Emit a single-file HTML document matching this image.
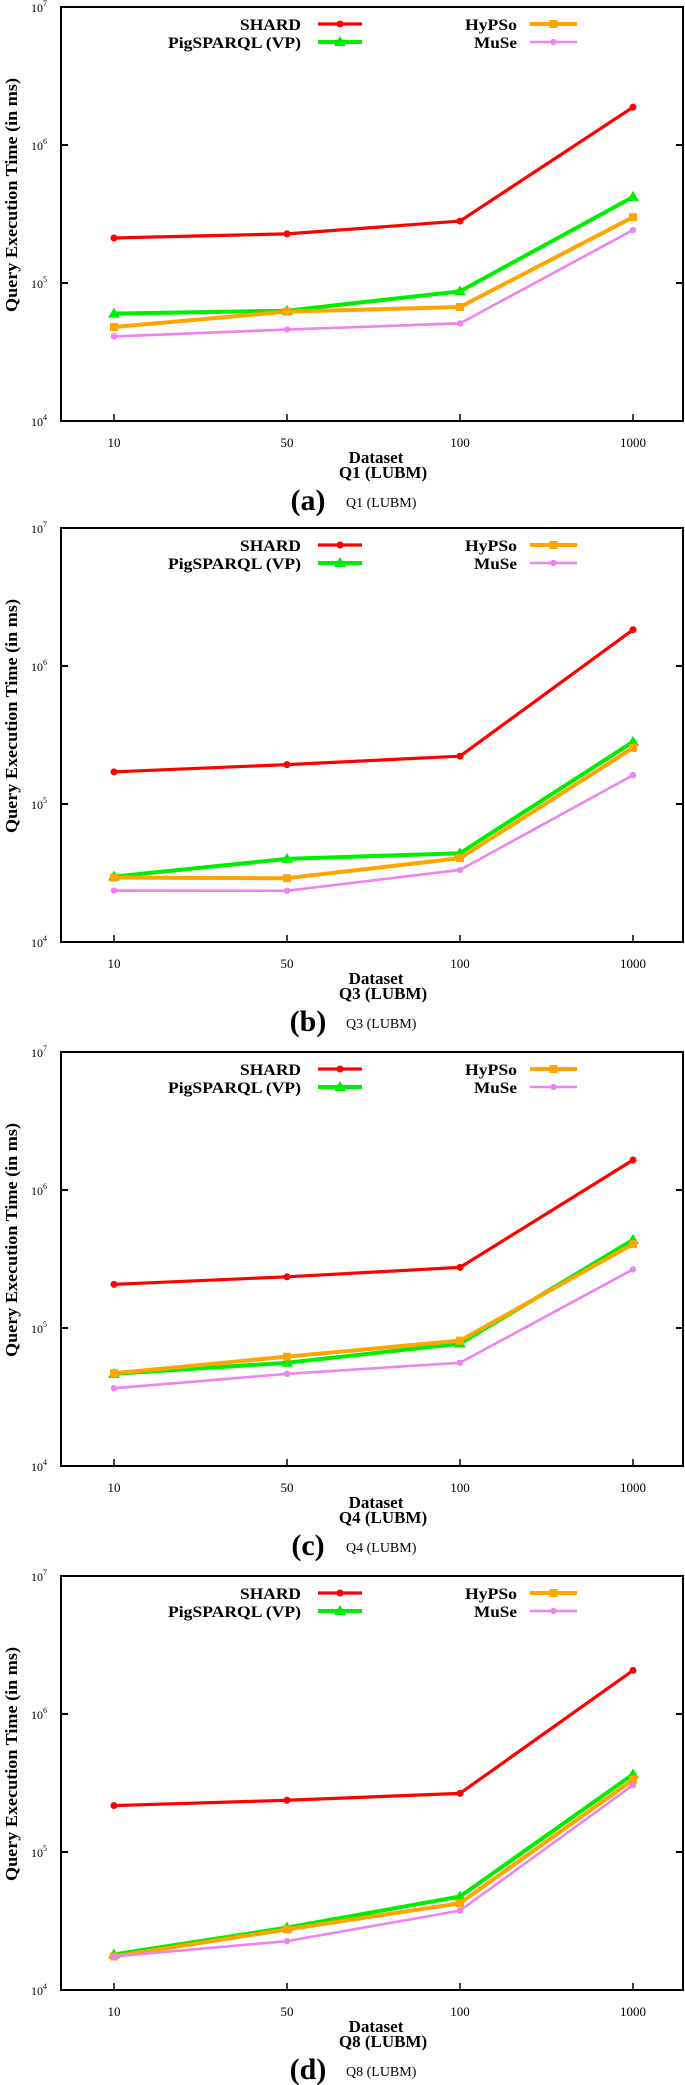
<!DOCTYPE html>
<html><head><meta charset="utf-8"><style>
html,body{margin:0;padding:0;background:#fff;}
svg{display:block;font-family:"Liberation Serif",serif;}
</style></head><body>
<svg id="fig" width="685" height="2085" viewBox="0 0 685 2085" xmlns="http://www.w3.org/2000/svg"></svg>
<script>
const categories = ["10","50","100","1000"];
const seriesNames = ["SHARD","PigSPARQL (VP)","HyPSo","MuSe"];
const yTickExps = [4,5,6,7];
const panelQueries = ["Q1","Q3","Q4","Q8"];
const panelLetters = ["(a)","(b)","(c)","(d)"];
// panel 1 (Q1)
const q1Shard = [212000,227000,281000,1880000];
const q1Pig = [60000,63000,87000,420000];
const q1Hypso = [48000,62000,67000,300000];
const q1Muse = [41000,46000,51000,242000];
// panel 2 (Q3)
const q3Shard = [171000,193000,222000,1830000];
const q3Pig = [29800,40000,44000,282000];
const q3Hypso = [29300,29000,40500,255000];
const q3Muse = [23600,23500,33300,162000];
// panel 3 (Q4)
const q4Shard = [207000,235000,275000,1650000];
const q4Pig = [46500,56000,77000,435000];
const q4Hypso = [47000,62000,81000,405000];
const q4Muse = [36600,46500,56000,266000];
// panel 4 (Q8)
const q8Shard = [217000,237000,266000,2070000];
const q8Pig = [18100,28300,47600,365000];
const q8Hypso = [17500,27500,42500,334000];
const q8Muse = [17500,22600,37600,305000];

const panelData = [
  [q1Shard,q1Pig,q1Hypso,q1Muse],
  [q3Shard,q3Pig,q3Hypso,q3Muse],
  [q4Shard,q4Pig,q4Hypso,q4Muse],
  [q8Shard,q8Pig,q8Hypso,q8Muse]
];
const tops = [7,528,1052,1576];
const colors = ["#ff0000","#00ee00","#ffa500","#ee82ee"];
const widths = [3.2,4,4,2.6];
const NS = "http://www.w3.org/2000/svg";
const svg = document.getElementById("fig");
const X0 = 61, X1 = 683, H = 414;
function xScale(i){ return 114 + i*173; }
function yScale(v, top){ return top + H - (Math.log10(v) - 4) * (H/3); }
function mk(tag, attrs, parent){
  const e = document.createElementNS(NS, tag);
  for (const k in attrs) e.setAttribute(k, attrs[k]);
  (parent||svg).appendChild(e);
  return e;
}
function marker(kind, x, y, color, g){
  let m;
  if (kind===0 || kind===3) m = mk("circle",{cx:x,cy:y,r:kind===0?3.5:3.2,fill:color},g);
  else if (kind===1) m = mk("polygon",{points:`${x},${y-6} ${x-6},${y+4} ${x+6},${y+4}`,fill:color},g);
  else m = mk("rect",{x:x-4,y:y-4,width:8,height:8,fill:color},g);
  return m;
}
panelData.forEach((data, p) => {
  const T = tops[p], B = T + H;
  const g = mk("g",{});
  
  
  // frame
  const fr = mk("rect",{x:X0,y:T,width:X1-X0,height:H,fill:"none",stroke:"#000","stroke-width":2},g);
  
  
  // y ticks
  yTickExps.forEach(e => {
    const y = yScale(Math.pow(10,e), T);
    mk("line",{x1:X0,x2:X0+7,y1:y,y2:y,stroke:"#000","stroke-width":2},g);
    mk("line",{x1:X1-7,x2:X1,y1:y,y2:y,stroke:"#000","stroke-width":2},g);
    const t = mk("text",{x:47,y:y+5,"text-anchor":"end","font-size":12},g);
    t.textContent = "10";
    const s = mk("tspan",{"font-size":8,dy:-6},t);
    s.textContent = String(e);
    
    
  });
  // x ticks
  categories.forEach((c,i) => {
    const x = xScale(i);
    mk("line",{x1:x,x2:x,y1:B,y2:B-7,stroke:"#000","stroke-width":1.5},g);
    const t = mk("text",{x:x,y:B+26,"text-anchor":"middle","font-size":13},g);
    t.textContent = c;
    
    
  });
  // y title
  const yt = mk("text",{x:0,y:0,"text-anchor":"middle","font-size":17,"font-weight":"bold",transform:`translate(17,${T+188}) rotate(-90)`,textLength:234,lengthAdjust:"spacingAndGlyphs"},g);
  yt.textContent = "Query Execution Time (in ms)";
  
  
  // series
  data.forEach((vals, s) => {
    const sg = mk("g",{},g);
    
    
    const pts = vals.map((v,i)=>`${xScale(i)},${yScale(v,T)}`).join(" ");
    mk("polyline",{points:pts,fill:"none",stroke:colors[s],"stroke-width":widths[s],"stroke-linejoin":"round"},sg);
    vals.forEach((v,i)=>{
      const m = marker(s, xScale(i), yScale(v,T), colors[s], sg);
      
      
    });
  });
  // legend
  const lg = mk("g",{},g);
  
  
  const leg = [[301,318,362,T+17],[301,318,362,T+35],[517,530,577,T+17],[517,530,577,T+35]];
  const legW = [61,133,52,43];
  [0,1,2,3].forEach(s => {
    const [tx,l0,l1,ly] = leg[s];
    const t = mk("text",{x:tx,y:ly+6,"text-anchor":"end","font-size":16,"font-weight":"bold",textLength:legW[s],lengthAdjust:"spacingAndGlyphs"},lg);
    t.textContent = seriesNames[s];
    
    
    mk("line",{x1:l0,x2:l1,y1:ly,y2:ly,stroke:colors[s],"stroke-width":widths[s]},lg);
    marker(s,(l0+l1)/2,ly,colors[s],lg);
  });
  // captions
  const dt = mk("text",{x:376,y:T+456,"text-anchor":"middle","font-size":17,"font-weight":"bold"},g);
  dt.textContent = "Dataset";
  
  
  const qt = mk("text",{x:383,y:T+471,"text-anchor":"middle","font-size":17,"font-weight":"bold"},g);
  qt.textContent = panelQueries[p] + " (LUBM)";
  
  
  const lt = mk("text",{x:308,y:T+503,"text-anchor":"middle","font-size":30,"font-weight":"bold"},g);
  lt.textContent = panelLetters[p];
  
  
  const st = mk("text",{x:346,y:T+500,"font-size":14},g);
  st.textContent = panelQueries[p] + " (LUBM)";
  
  
});
</script>
</body></html>
